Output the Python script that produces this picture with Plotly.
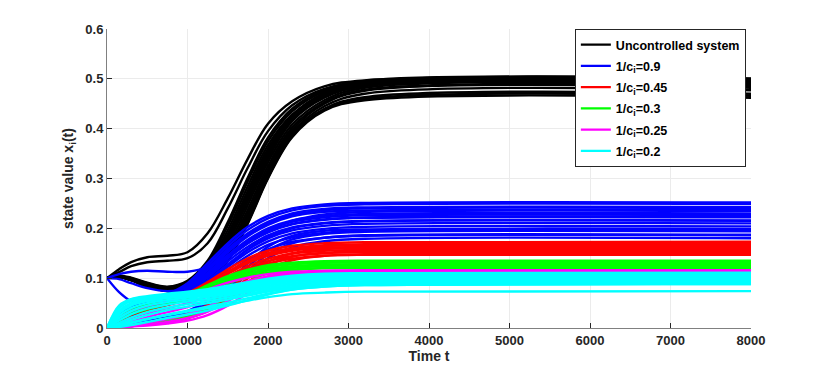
import plotly.graph_objects as go

T = [0, 150, 300, 500, 750, 1000, 1250, 1500, 1750, 2000, 2300, 2700, 3200, 8000]

x_ticks = [0, 1000, 2000, 3000, 4000, 5000, 6000, 7000, 8000]
y_ticks = [0, 0.1, 0.2, 0.3, 0.4, 0.5, 0.6]

labels = ["Uncontrolled system", "1/c<sub>i</sub>=0.9", "1/c<sub>i</sub>=0.45",
          "1/c<sub>i</sub>=0.3", "1/c<sub>i</sub>=0.25", "1/c<sub>i</sub>=0.2"]
colors = ["#000000", "#0000FF", "#FF0000", "#00FF00", "#FF00FF", "#00FFFF"]

uncontrolled = [
    [0.100, 0.118, 0.132, 0.142, 0.145, 0.152, 0.190, 0.260, 0.340, 0.410, 0.455, 0.485, 0.497, 0.500],
    [0.100, 0.112, 0.124, 0.132, 0.135, 0.140, 0.170, 0.240, 0.322, 0.395, 0.447, 0.480, 0.493, 0.496],
    [0.100, 0.105, 0.101, 0.091, 0.083, 0.095, 0.135, 0.212, 0.302, 0.382, 0.440, 0.478, 0.496, 0.501],
    [0.100, 0.104, 0.100, 0.090, 0.082, 0.092, 0.130, 0.205, 0.295, 0.375, 0.435, 0.475, 0.493, 0.498],
    [0.100, 0.104, 0.099, 0.089, 0.081, 0.089, 0.124, 0.196, 0.285, 0.367, 0.428, 0.470, 0.489, 0.495],
    [0.100, 0.104, 0.099, 0.089, 0.081, 0.088, 0.120, 0.188, 0.276, 0.360, 0.426, 0.472, 0.494, 0.499],
    [0.100, 0.103, 0.099, 0.088, 0.080, 0.086, 0.117, 0.182, 0.270, 0.356, 0.425, 0.470, 0.491, 0.497],
    [0.100, 0.103, 0.098, 0.087, 0.079, 0.085, 0.114, 0.177, 0.263, 0.350, 0.420, 0.467, 0.489, 0.495],
    [0.100, 0.103, 0.098, 0.087, 0.079, 0.084, 0.112, 0.174, 0.260, 0.346, 0.418, 0.465, 0.487, 0.493],
    [0.100, 0.103, 0.098, 0.086, 0.078, 0.083, 0.110, 0.170, 0.255, 0.340, 0.415, 0.462, 0.485, 0.490],
    [0.100, 0.103, 0.097, 0.085, 0.077, 0.081, 0.106, 0.163, 0.247, 0.333, 0.408, 0.457, 0.482, 0.488],
    [0.100, 0.102, 0.097, 0.085, 0.076, 0.080, 0.102, 0.156, 0.238, 0.325, 0.402, 0.453, 0.478, 0.485],
    [0.100, 0.102, 0.097, 0.084, 0.076, 0.079, 0.099, 0.150, 0.230, 0.318, 0.397, 0.450, 0.476, 0.482],
    [0.100, 0.102, 0.096, 0.084, 0.075, 0.078, 0.097, 0.145, 0.224, 0.312, 0.392, 0.445, 0.470, 0.477],
    [0.100, 0.102, 0.096, 0.083, 0.075, 0.077, 0.095, 0.140, 0.217, 0.306, 0.388, 0.440, 0.463, 0.470],
    [0.100, 0.102, 0.096, 0.083, 0.074, 0.076, 0.093, 0.137, 0.212, 0.302, 0.385, 0.438, 0.460, 0.466],
    [0.100, 0.102, 0.096, 0.083, 0.074, 0.076, 0.092, 0.135, 0.210, 0.300, 0.383, 0.436, 0.457, 0.462],
]

c_09 = [
    [0.100, 0.108, 0.113, 0.115, 0.113, 0.113, 0.122, 0.145, 0.172, 0.195, 0.215, 0.228, 0.233, 0.235],
    [0.100, 0.072, 0.054, 0.046, 0.050, 0.062, 0.088, 0.125, 0.158, 0.182, 0.200, 0.210, 0.214, 0.215],
    [0.100, 0.098, 0.090, 0.080, 0.074, 0.080, 0.105, 0.140, 0.170, 0.192, 0.208, 0.217, 0.221, 0.222],
    [0.000, 0.030, 0.045, 0.056, 0.068, 0.090, 0.130, 0.170, 0.203, 0.225, 0.240, 0.248, 0.251, 0.252],
    [0.000, 0.028, 0.043, 0.054, 0.066, 0.087, 0.125, 0.164, 0.197, 0.220, 0.236, 0.245, 0.248, 0.249],
    [0.000, 0.026, 0.041, 0.052, 0.064, 0.084, 0.120, 0.158, 0.190, 0.213, 0.230, 0.239, 0.242, 0.243],
    [0.000, 0.025, 0.040, 0.052, 0.063, 0.083, 0.118, 0.155, 0.187, 0.210, 0.227, 0.236, 0.240, 0.241],
    [0.000, 0.024, 0.040, 0.051, 0.062, 0.081, 0.116, 0.152, 0.184, 0.207, 0.224, 0.233, 0.236, 0.237],
    [0.000, 0.022, 0.038, 0.050, 0.060, 0.078, 0.111, 0.146, 0.177, 0.200, 0.216, 0.225, 0.229, 0.230],
    [0.000, 0.021, 0.037, 0.049, 0.059, 0.077, 0.109, 0.143, 0.174, 0.197, 0.213, 0.222, 0.226, 0.227],
    [0.000, 0.020, 0.036, 0.048, 0.058, 0.075, 0.106, 0.140, 0.170, 0.193, 0.209, 0.218, 0.222, 0.223],
    [0.000, 0.018, 0.034, 0.046, 0.056, 0.072, 0.101, 0.134, 0.163, 0.186, 0.202, 0.211, 0.215, 0.216],
    [0.000, 0.016, 0.032, 0.044, 0.054, 0.069, 0.096, 0.128, 0.157, 0.180, 0.196, 0.205, 0.209, 0.210],
    [0.000, 0.014, 0.030, 0.042, 0.052, 0.066, 0.092, 0.123, 0.152, 0.174, 0.190, 0.199, 0.203, 0.204],
    [0.000, 0.004, 0.008, 0.014, 0.022, 0.034, 0.055, 0.090, 0.130, 0.163, 0.185, 0.195, 0.198, 0.199],
    [0.000, 0.012, 0.027, 0.040, 0.050, 0.063, 0.087, 0.117, 0.145, 0.167, 0.182, 0.191, 0.195, 0.196],
    [0.000, 0.003, 0.006, 0.011, 0.018, 0.030, 0.050, 0.085, 0.123, 0.155, 0.178, 0.189, 0.193, 0.194],
    [0.000, 0.002, 0.005, 0.009, 0.015, 0.026, 0.045, 0.078, 0.115, 0.148, 0.170, 0.181, 0.186, 0.187],
    [0.000, 0.010, 0.024, 0.037, 0.047, 0.060, 0.082, 0.110, 0.137, 0.158, 0.173, 0.181, 0.185, 0.186],
    [0.000, 0.002, 0.004, 0.008, 0.013, 0.022, 0.040, 0.072, 0.108, 0.140, 0.162, 0.174, 0.179, 0.180],
]

c_045 = [
    [0.000, 0.022, 0.036, 0.046, 0.056, 0.070, 0.092, 0.118, 0.140, 0.155, 0.165, 0.170, 0.172, 0.173],
    [0.000, 0.020, 0.034, 0.044, 0.054, 0.067, 0.088, 0.113, 0.135, 0.150, 0.160, 0.166, 0.168, 0.169],
    [0.000, 0.019, 0.033, 0.043, 0.053, 0.066, 0.086, 0.110, 0.132, 0.147, 0.158, 0.164, 0.166, 0.167],
    [0.000, 0.018, 0.032, 0.042, 0.052, 0.064, 0.084, 0.108, 0.130, 0.145, 0.155, 0.161, 0.163, 0.164],
    [0.000, 0.003, 0.006, 0.010, 0.017, 0.028, 0.046, 0.075, 0.108, 0.133, 0.150, 0.158, 0.160, 0.161],
    [0.000, 0.016, 0.030, 0.040, 0.050, 0.062, 0.080, 0.103, 0.124, 0.139, 0.149, 0.155, 0.157, 0.158],
    [0.000, 0.002, 0.004, 0.008, 0.014, 0.024, 0.040, 0.068, 0.100, 0.126, 0.143, 0.151, 0.154, 0.155],
    [0.000, 0.014, 0.028, 0.038, 0.048, 0.060, 0.077, 0.099, 0.119, 0.134, 0.144, 0.150, 0.152, 0.153],
    [0.000, 0.002, 0.004, 0.007, 0.012, 0.020, 0.035, 0.060, 0.092, 0.118, 0.136, 0.145, 0.148, 0.149],
    [0.000, 0.012, 0.026, 0.036, 0.046, 0.057, 0.073, 0.094, 0.114, 0.129, 0.139, 0.145, 0.147, 0.147],
]

c_03 = [
    [0.000, 0.022, 0.036, 0.046, 0.056, 0.068, 0.086, 0.104, 0.117, 0.126, 0.131, 0.134, 0.135, 0.135],
    [0.000, 0.021, 0.035, 0.045, 0.055, 0.067, 0.084, 0.102, 0.115, 0.124, 0.129, 0.132, 0.133, 0.134],
    [0.000, 0.020, 0.034, 0.044, 0.054, 0.066, 0.083, 0.100, 0.113, 0.122, 0.128, 0.131, 0.132, 0.132],
    [0.000, 0.018, 0.032, 0.042, 0.052, 0.063, 0.080, 0.096, 0.109, 0.118, 0.124, 0.127, 0.128, 0.129],
    [0.000, 0.002, 0.005, 0.009, 0.015, 0.024, 0.040, 0.065, 0.092, 0.110, 0.121, 0.126, 0.127, 0.128],
    [0.000, 0.016, 0.030, 0.040, 0.050, 0.061, 0.077, 0.093, 0.106, 0.115, 0.121, 0.124, 0.125, 0.126],
    [0.000, 0.002, 0.004, 0.007, 0.012, 0.020, 0.034, 0.056, 0.082, 0.102, 0.115, 0.121, 0.123, 0.123],
    [0.000, 0.014, 0.028, 0.038, 0.048, 0.058, 0.073, 0.089, 0.102, 0.111, 0.117, 0.120, 0.121, 0.121],
]

c_025 = [
    [0.000, 0.020, 0.034, 0.044, 0.053, 0.063, 0.077, 0.091, 0.101, 0.108, 0.113, 0.115, 0.116, 0.116],
    [0.000, 0.003, 0.006, 0.011, 0.018, 0.028, 0.043, 0.064, 0.085, 0.100, 0.109, 0.113, 0.114, 0.115],
    [0.000, 0.002, 0.004, 0.007, 0.012, 0.020, 0.033, 0.054, 0.078, 0.096, 0.107, 0.112, 0.114, 0.114],
    [0.000, 0.010, 0.020, 0.030, 0.040, 0.050, 0.063, 0.080, 0.094, 0.104, 0.110, 0.113, 0.114, 0.115],
    [0.000, 0.001, 0.003, 0.005, 0.009, 0.015, 0.026, 0.045, 0.070, 0.091, 0.104, 0.110, 0.112, 0.113],
    [0.000, 0.006, 0.013, 0.022, 0.032, 0.042, 0.056, 0.074, 0.090, 0.101, 0.108, 0.112, 0.113, 0.113],
]

c_02 = [
    [0.000, 0.045, 0.058, 0.064, 0.069, 0.073, 0.078, 0.085, 0.092, 0.099, 0.105, 0.109, 0.110, 0.111],
    [0.000, 0.042, 0.056, 0.062, 0.067, 0.071, 0.076, 0.083, 0.090, 0.097, 0.103, 0.107, 0.109, 0.110],
    [0.000, 0.040, 0.054, 0.061, 0.066, 0.070, 0.075, 0.081, 0.088, 0.095, 0.101, 0.105, 0.107, 0.108],
    [0.000, 0.035, 0.050, 0.058, 0.063, 0.067, 0.072, 0.078, 0.085, 0.092, 0.098, 0.102, 0.104, 0.105],
    [0.000, 0.032, 0.047, 0.056, 0.061, 0.065, 0.070, 0.076, 0.083, 0.090, 0.096, 0.100, 0.102, 0.103],
    [0.000, 0.030, 0.045, 0.054, 0.060, 0.064, 0.068, 0.074, 0.081, 0.088, 0.094, 0.098, 0.100, 0.101],
    [0.000, 0.025, 0.040, 0.050, 0.056, 0.061, 0.065, 0.071, 0.078, 0.085, 0.091, 0.095, 0.097, 0.098],
    [0.000, 0.020, 0.034, 0.045, 0.052, 0.057, 0.062, 0.068, 0.075, 0.082, 0.088, 0.092, 0.094, 0.095],
    [0.000, 0.015, 0.028, 0.039, 0.047, 0.053, 0.058, 0.065, 0.072, 0.079, 0.085, 0.089, 0.091, 0.092],
    [0.000, 0.010, 0.021, 0.032, 0.041, 0.048, 0.054, 0.061, 0.068, 0.076, 0.082, 0.087, 0.089, 0.090],
    [0.000, 0.007, 0.016, 0.026, 0.036, 0.043, 0.050, 0.057, 0.065, 0.073, 0.080, 0.085, 0.087, 0.089],
    [0.000, 0.004, 0.010, 0.018, 0.027, 0.035, 0.043, 0.051, 0.060, 0.069, 0.077, 0.083, 0.086, 0.088],
    [0.000, 0.002, 0.006, 0.012, 0.020, 0.027, 0.035, 0.045, 0.056, 0.067, 0.077, 0.083, 0.086, 0.088],
    [0.000, 0.005, 0.011, 0.018, 0.026, 0.033, 0.040, 0.047, 0.055, 0.062, 0.068, 0.071, 0.073, 0.074],
]

groups = [uncontrolled, c_09, c_045, c_03, c_025, c_02]

fig = go.Figure()
for label, color, curves in zip(labels, colors, groups):
    for k, ys in enumerate(curves):
        fig.add_trace(go.Scatter(
            x=T, y=ys, mode="lines",
            line=dict(color=color, width=2.4, shape="spline"),
            name=label, legendgroup=label, showlegend=(k == 0),
            hoverinfo="skip",
        ))

FAM = "Liberation Sans, Arial, sans-serif"
axis_font = dict(family=FAM, size=13, color="#262626", weight="bold")
title_font = dict(family=FAM, size=14, color="#262626", weight="bold")

fig.update_layout(
    width=830, height=371,
    # the page body adds an 8px offset; margins compensate so the plot area sits where the reference's does
    margin=dict(l=99, r=87, t=21, b=51),
    plot_bgcolor="white", paper_bgcolor="white",
    font=dict(family=FAM, size=13, color="#262626"),
    xaxis=dict(
        range=[0, 8000], tickvals=x_ticks, ticktext=[str(v) for v in x_ticks],
        ticks="inside", ticklen=5, tickcolor="#262626",
        showline=True, linecolor="#808080", linewidth=1,
        showgrid=True, gridcolor="#ebebeb", zeroline=False,
        tickfont=axis_font, automargin=False,
        title=dict(text="Time t", font=title_font, standoff=4),
    ),
    yaxis=dict(
        range=[0, 0.6], tickvals=y_ticks, ticktext=["0", "0.1", "0.2", "0.3", "0.4", "0.5", "0.6"],
        ticks="inside", ticklen=5, tickcolor="#262626",
        showline=True, linecolor="#808080", linewidth=1,
        showgrid=True, gridcolor="#ebebeb", zeroline=False,
        tickfont=axis_font, automargin=False,
        title=dict(text="state value x<sub>i</sub>(t)", font=title_font, standoff=8),
    ),
    legend=dict(
        x=0.992, xanchor="right", y=1.0, yanchor="top",
        bgcolor="white", bordercolor="#262626", borderwidth=1,
        font=dict(family=FAM, size=12.5, color="#000000", weight="bold"),
        tracegroupgap=2, itemwidth=30,
    ),
)

fig.write_html("out.html")
